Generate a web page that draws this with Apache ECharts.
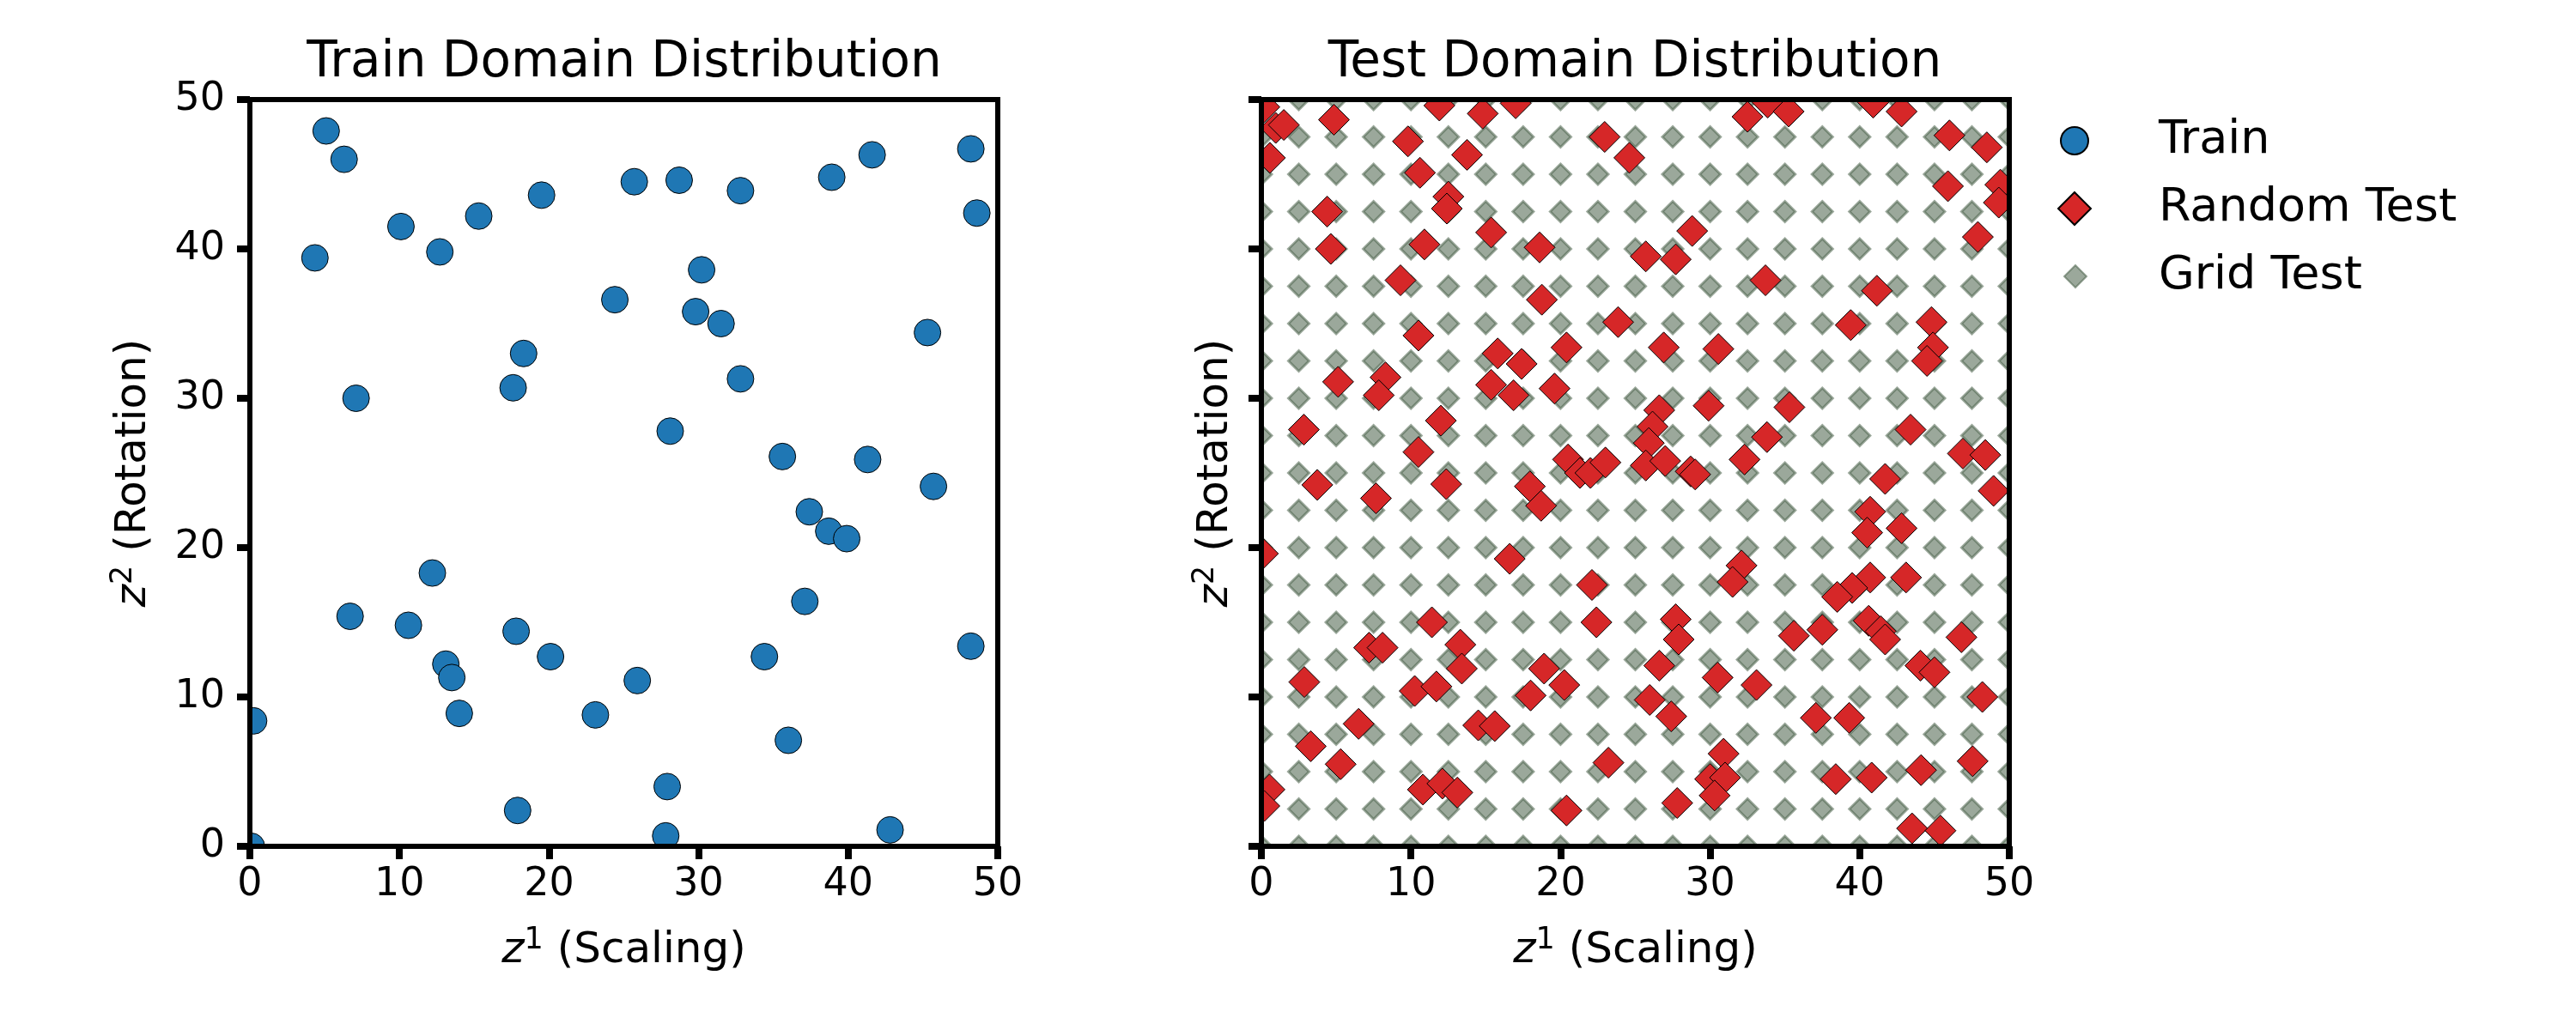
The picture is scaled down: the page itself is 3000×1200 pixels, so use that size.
<!DOCTYPE html>
<html>
<head>
<meta charset="utf-8">
<title>Domain Distribution</title>
<script src="https://cdn.jsdelivr.net/npm/echarts@6/dist/echarts.min.js"></script>
<style>
  html, body { margin: 0; padding: 0; background: #fff; }
  #main { width: 3000px; height: 1200px; }
</style>
</head>
<body>
<div id="main"></div>
<script>
// train samples (z1, z2)
const trainX = [5.1, 6.3, 4.35, 10.1, 12.7, 15.3, 19.5, 25.7, 28.7, 32.8, 38.9, 41.6, 48.2, 48.6, 30.2, 24.4, 29.8, 31.5, 45.3, 18.3,
  17.6, 7.1, 32.8, 28.1, 35.6, 41.3, 45.7, 37.4, 38.7, 39.9, 12.2, 6.7, 10.6, 17.8, 37.1, 20.1, 13.1, 13.5, 14.0, 25.9,
  23.1, 34.4, 48.2, 0.25, 36.0, 27.9, 17.9, 27.8, 42.8, 0.1];
const trainY = [47.9, 46.0, 39.4, 41.5, 39.8, 42.2, 43.6, 44.5, 44.6, 43.9, 44.8, 46.3, 46.7, 42.4, 38.6, 36.6, 35.8, 35.0, 34.4, 33.0,
  30.7, 30.0, 31.3, 27.8, 26.1, 25.9, 24.1, 22.4, 21.1, 20.6, 18.3, 15.4, 14.8, 14.4, 16.4, 12.7, 12.2, 11.3, 8.9, 11.1,
  8.8, 12.7, 13.4, 8.4, 7.1, 4.0, 2.4, 0.7, 1.1, 0.0];

// random test samples (z1, z2)
const randomX = [
  0.2, 0.96, 1.5, 0.57, 4.85, 11.9, 14.8, 17.0, 9.8, 13.75, 10.6, 12.5, 12.4, 4.4, 4.64, 15.36, 10.9, 18.6, 22.95, 24.6,
  9.3, 18.75, 23.85, 10.5, 15.8, 17.4, 20.4, 15.36, 16.86, 19.6, 5.13, 8.3, 7.85, 2.84, 12.0, 10.5, 20.5, 21.3, 22.0, 23.0,
  32.5, 33.85, 35.25, 40.9, 42.8, 46.0, 48.5, 45.9, 49.4, 49.3, 47.9, 28.8, 25.7, 27.7, 33.7, 41.15, 39.4, 44.8, 44.9, 44.5,
  26.9, 30.55, 26.6, 26.15, 25.9, 25.7, 27.0, 28.7, 29.0, 29.9, 35.3, 33.8, 32.3, 43.4, 46.9, 48.4,
  41.7, 48.95, 40.7, 40.5, 42.8, 32.1, 31.5, 40.7, 39.5, 38.5, 43.1, 27.7, 27.9, 26.6, 25.96, 27.4, 30.5, 33.1, 35.6, 37.5,
  40.6, 41.4, 41.7, 46.8, 44.06, 45.0, 48.2, 37.07, 39.3, 30.9, 30.0, 31.0, 30.3, 27.8, 38.4, 40.8, 44.1, 47.55, 43.5, 45.4,
  3.74, 7.66, 12.36, 17.95, 18.7, 0.1, 16.6, 22.1, 22.4, 11.4, 7.2, 8.1, 13.3, 13.4, 2.87, 10.25, 11.7, 6.5, 3.3, 5.3,
  0.54, 0.2, 10.8, 12.1, 13.1, 20.4, 18.9, 20.25, 18.0, 14.5, 15.6, 23.2];
const randomY = [
  49.5, 48.1, 48.3, 46.1, 48.65, 49.6, 49.06, 49.75, 47.2, 46.3, 45.1, 43.5, 42.7, 42.5, 40.0, 41.1, 40.3, 40.1, 47.5, 46.1,
  37.9, 36.6, 35.1, 34.2, 33.0, 32.3, 33.4, 30.9, 30.2, 30.65, 31.1, 31.4, 30.2, 27.9, 28.5, 26.4, 25.9, 25.0, 25.0, 25.7,
  48.85, 49.8, 49.2, 49.8, 49.2, 47.6, 46.8, 44.2, 44.3, 43.1, 40.8, 41.2, 39.5, 39.3, 37.9, 37.2, 34.9, 35.1, 33.4, 32.5,
  33.4, 33.3, 29.2, 28.1, 27.0, 25.5, 25.8, 25.1, 24.9, 29.5, 29.4, 27.4, 25.9, 27.9, 26.3, 26.2,
  24.6, 23.8, 22.4, 21.0, 21.3, 18.8, 17.7, 18.0, 17.3, 16.7, 18.0, 15.2, 13.85, 12.1, 9.8, 8.7, 11.3, 10.8, 14.1, 14.5,
  15.1, 14.4, 13.85, 14.0, 12.1, 11.65, 10.0, 8.6, 8.6, 6.2, 4.5, 4.6, 3.4, 2.9, 4.5, 4.6, 5.1, 5.7, 1.2, 1.05,
  24.2, 23.3, 24.25, 24.1, 22.8, 19.6, 19.25, 17.5, 15.0, 15.0, 13.3, 13.3, 13.5, 11.9, 11.0, 10.4, 10.7, 8.2, 6.7, 5.5,
  3.8, 2.7, 3.8, 4.2, 3.6, 2.4, 11.9, 10.8, 10.1, 8.1, 8.05, 5.6];

// regular grid test positions along each axis
const gridSteps = [0, 2.5, 5, 7.5, 10, 12.5, 15, 17.5, 20, 22.5, 25, 27.5, 30, 32.5, 35, 37.5, 40, 42.5, 45, 47.5, 50];

const FONT = 'DejaVu Sans';

const trainData = trainX.map((x, i) => [x, trainY[i]]);
const randomData = randomX.map((x, i) => [x, randomY[i]]);
const gridData = [];
gridSteps.forEach(gx => gridSteps.forEach(gy => gridData.push([gx, gy])));

// plot areas in pixels
const panels = [
  { left: 291, top: 116, width: 871, height: 870 },
  { left: 1469, top: 116, width: 871, height: 870 }
];

const labelRich = {
  i: { fontFamily: FONT, fontSize: 50, fontStyle: 'italic', color: '#000' },
  s: { fontFamily: FONT, fontSize: 35, color: '#000', padding: [0, 0, 26, 0] },
  n: { fontFamily: FONT, fontSize: 50, color: '#000' }
};

function spine(gridIndex, position) {
  return {
    type: 'value', gridIndex: gridIndex, position: position, min: 0, max: 50, interval: 10, z: 10,
    axisLine: { show: true, onZero: false, lineStyle: { color: '#000', width: 6, cap: 'square' } },
    axisTick: { show: false }, axisLabel: { show: false }, splitLine: { show: false }
  };
}

function mainAxis(gridIndex, position, showLabels, name, nameGap) {
  return {
    type: 'value', gridIndex: gridIndex, position: position, min: 0, max: 50, interval: 10, z: 10,
    axisLine: { show: true, onZero: false, lineStyle: { color: '#000', width: 6, cap: 'square' } },
    axisTick: { show: true, inside: false, length: 15, lineStyle: { color: '#000', width: 8 } },
    axisLabel: { show: showLabels, fontFamily: FONT, fontSize: 46, color: '#000', margin: position === 'left' ? 29 : 22 },
    splitLine: { show: false },
    name: name, nameLocation: 'middle', nameGap: nameGap,
    nameRotate: position === 'left' ? 90 : 0,
    nameTextStyle: { fontFamily: FONT, fontSize: 50, color: '#000', rich: labelRich }
  };
}

// white bands just outside each plot area so markers get cut at the frame
const pad = 40;
const masks = [];
panels.forEach(p => {
  const r = p.left + p.width, b = p.top + p.height;
  [
    [p.left - pad, p.top - pad, p.width + 2 * pad, pad],
    [p.left - pad, b, p.width + 2 * pad, pad],
    [p.left - pad, p.top, pad, p.height],
    [r, p.top, pad, p.height]
  ].forEach(s => masks.push({
    type: 'rect', z: 5, silent: true,
    shape: { x: s[0], y: s[1], width: s[2], height: s[3] },
    style: { fill: '#fff' }
  }));
});

const chart = echarts.init(document.getElementById('main'));
chart.setOption({
  animation: false,
  backgroundColor: '#fff',
  title: [
    { text: 'Train Domain Distribution', left: 727, top: 45, textAlign: 'center', padding: 0, z: 10,
      textStyle: { fontFamily: FONT, fontSize: 58, fontWeight: 'normal', color: '#000' } },
    { text: 'Test Domain Distribution', left: 1904, top: 45, textAlign: 'center', padding: 0, z: 10,
      textStyle: { fontFamily: FONT, fontSize: 58, fontWeight: 'normal', color: '#000' } }
  ],
  legend: [
    { data: ['Train'], left: 2399, top: 137, padding: 0, z: 10, icon: 'circle', itemWidth: 32, itemHeight: 32, selectedMode: false,
      textStyle: { fontFamily: FONT, fontSize: 54, color: '#000', padding: [0, 0, 8, 77] } },
    { data: ['Random Test'], left: 2396, top: 216, padding: 0, z: 10, icon: 'diamond', itemWidth: 38, itemHeight: 38, selectedMode: false,
      textStyle: { fontFamily: FONT, fontSize: 54, color: '#000', padding: [0, 0, 8, 74] } },
    { data: ['Grid Test'], left: 2403, top: 295, padding: 0, z: 10, icon: 'diamond', itemWidth: 26, itemHeight: 26, selectedMode: false,
      textStyle: { fontFamily: FONT, fontSize: 54, color: '#000', padding: [0, 0, 8, 79] } }
  ],
  grid: panels.map(p => Object.assign({ containLabel: false }, p)),
  graphic: { elements: masks },
  xAxis: [
    mainAxis(0, 'bottom', true, '{i|z}{s|1}{n| (Scaling)}', 92),
    spine(0, 'top'),
    mainAxis(1, 'bottom', true, '{i|z}{s|1}{n| (Scaling)}', 92),
    spine(1, 'top')
  ],
  yAxis: [
    mainAxis(0, 'left', true, '{i|z}{s|2}{n| (Rotation)}', 104),
    spine(0, 'right'),
    mainAxis(1, 'left', false, '{i|z}{s|2}{n| (Rotation)}', 22),
    spine(1, 'right')
  ],
  series: [
    {
      name: 'Train', type: 'scatter', xAxisIndex: 0, yAxisIndex: 0,
      symbol: 'circle', symbolSize: 31, data: trainData,
      itemStyle: { color: '#1f77b4', borderColor: '#000', borderWidth: 1, opacity: 1 }
    },
    {
      name: 'Grid Test', type: 'scatter', xAxisIndex: 2, yAxisIndex: 2,
      symbol: 'diamond', symbolSize: 24, data: gridData,
      itemStyle: { color: 'rgba(73,97,73,0.55)', borderColor: 'rgba(73,97,73,0.55)', borderWidth: 3, opacity: 1 }
    },
    {
      name: 'Random Test', type: 'scatter', xAxisIndex: 2, yAxisIndex: 2,
      symbol: 'diamond', symbolSize: 36, data: randomData,
      itemStyle: { color: '#d62728', borderColor: '#000', borderWidth: 1, opacity: 1 }
    }
  ]
});
</script>
</body>
</html>
